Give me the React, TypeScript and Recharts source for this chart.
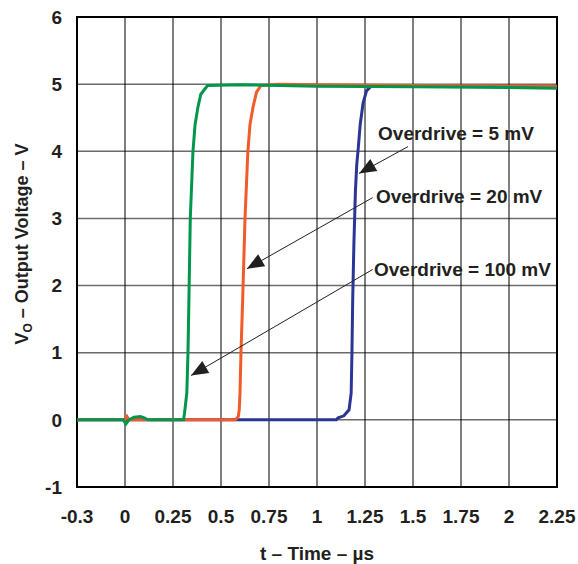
import React from "react";
import {
  CartesianGrid,
  Label,
  Line,
  LineChart,
  ReferenceArea,
  ReferenceDot,
  ReferenceLine,
  XAxis,
  YAxis,
} from "recharts";

// time in µs, output voltage in V
const od5Time = [-0.25, 0.6, 1.0, 1.1, 1.11, 1.14, 1.167, 1.178, 1.182, 1.186, 1.192, 1.2, 1.207, 1.215, 1.225, 1.24, 1.258, 1.281, 1.35, 1.6, 2.0, 2.25];
const od5Volt = [0, 0, 0, 0, 0.03, 0.06, 0.15, 0.4, 1.0, 1.8, 2.6, 3.4, 3.8, 4.05, 4.4, 4.72, 4.9, 4.97, 4.98, 4.97, 4.96, 4.95];

const od20Time = [-0.25, 0.0, 0.01, 0.02, 0.575, 0.59, 0.595, 0.599, 0.604, 0.613, 0.625, 0.64, 0.651, 0.667, 0.685, 0.708, 0.8, 1.0, 1.5, 2.0, 2.25];
const od20Volt = [0, 0, 0.05, 0, 0, 0.05, 0.15, 0.4, 1.0, 1.8, 3.0, 4.0, 4.4, 4.66, 4.88, 4.98, 5.0, 4.99, 4.98, 4.97, 4.97];

const od100Time = [-0.25, -0.01, 0.005, 0.02, 0.047, 0.08, 0.1, 0.12, 0.305, 0.31, 0.322, 0.328, 0.333, 0.34, 0.354, 0.365, 0.38, 0.395, 0.43, 0.6, 1.0, 1.5, 2.0, 2.25];
const od100Volt = [0, 0, -0.06, 0, 0.04, 0.05, 0.03, 0, 0, 0.1, 0.4, 1.0, 1.8, 3.0, 4.0, 4.4, 4.66, 4.85, 4.98, 4.99, 4.97, 4.96, 4.95, 4.94];

const xTicks = [-0.25, 0, 0.25, 0.5, 0.75, 1, 1.25, 1.5, 1.75, 2, 2.25];
const yTicks = [-1, 0, 1, 2, 3, 4, 5, 6];

const notes = [
  { text: "Overdrive = 5 mV", t: 1.318, v: 4.27, fromT: 1.474, fromV: 4.07, tipT: 1.219, tipV: 3.67 },
  { text: "Overdrive = 20 mV", t: 1.307, v: 3.33, fromT: 1.29, fromV: 3.31, tipT: 0.635, tipV: 2.25 },
  { text: "Overdrive = 100 mV", t: 1.297, v: 2.24, fromT: 1.29, fromV: 2.24, tipT: 0.344, tipV: 0.66 },
];

const toRows = (ts: number[], vs: number[]) => ts.map((t, i) => ({ t, v: vs[i] }));
const od5 = toRows(od5Time, od5Volt);
const od20 = toRows(od20Time, od20Volt);
const od100 = toRows(od100Time, od100Volt);

const FONT = "'Liberation Sans', Arial, sans-serif";
const INK = "#231f20";

const tickStyle = { fontFamily: FONT, fontSize: 19, fontWeight: 700, fill: INK };

const Arrowhead = (props: any) => (
  <polygon
    points="0,0 -17,-7 -17,7"
    fill={INK}
    transform={`translate(${props.cx},${props.cy}) rotate(150)`}
  />
);

const noteText = (text: string) => (props: any) => (
  <text
    x={props.cx}
    y={props.cy}
    dy="0.35em"
    fontFamily={FONT}
    fontSize={19}
    fontWeight={700}
    fill={INK}
  >
    {text}
  </text>
);

const YTitle = () => (
  <text
    transform="translate(28, 244) rotate(-90)"
    textAnchor="middle"
    fontFamily={FONT}
    fontSize={18}
    fontWeight={700}
    fill={INK}
  >
    V<tspan fontSize={12} dy={4}>O</tspan>
    <tspan dy={-4}> – Output Voltage – V</tspan>
  </text>
);

const XTitle = (props: any) => {
  const vb = props.viewBox;
  return (
    <text
      x={vb.x + vb.width / 2}
      y={vb.y + 73}
      textAnchor="middle"
      fontFamily={FONT}
      fontSize={19}
      fontWeight={700}
      fill={INK}
    >
      t – Time – µs
    </text>
  );
};

export default function App() {
  return (
    <div style={{ position: "absolute", left: 0, top: 0, background: "#fff" }}>
      <LineChart width={578} height={564} margin={{ top: 17, right: 21, bottom: 0, left: 0 }}>
        <CartesianGrid vertical={false} stroke="#6b6b6b" strokeWidth={1.5} />
        <CartesianGrid horizontal={false} stroke="#000" strokeWidth={1} />
        <XAxis
          type="number"
          dataKey="t"
          domain={[-0.25, 2.25]}
          ticks={xTicks}
          interval={0}
          allowDataOverflow
          height={77}
          axisLine={false}
          tickLine={false}
          tickSize={0}
          tickMargin={23}
          tick={tickStyle}
          tickFormatter={(t: number) => (t === -0.25 ? "-0.3" : String(t))}
        >
          <Label content={XTitle} />
        </XAxis>
        <YAxis
          type="number"
          domain={[-1, 6]}
          ticks={yTicks}
          interval={0}
          width={77}
          axisLine={false}
          tickLine={false}
          tickSize={0}
          tickMargin={15}
          tick={tickStyle}
        >
          <Label content={YTitle} />
        </YAxis>
        <ReferenceArea x1={-0.25} x2={2.25} y1={-1} y2={6} fill="none" stroke="#000" strokeWidth={2} />
        <Line data={od5} dataKey="v" type="linear" stroke="#2b3595" strokeWidth={3} dot={false} isAnimationActive={false} />
        <Line data={od20} dataKey="v" type="linear" stroke="#f15a29" strokeWidth={3} dot={false} isAnimationActive={false} />
        <Line data={od100} dataKey="v" type="linear" stroke="#00964b" strokeWidth={3} dot={false} isAnimationActive={false} />
        {notes.map((n) => (
          <ReferenceLine
            key={`l-${n.text}`}
            segment={[
              { x: n.fromT, y: n.fromV },
              { x: n.tipT, y: n.tipV },
            ]}
            stroke={INK}
            strokeWidth={1}
          />
        ))}
        {notes.map((n) => (
          <ReferenceDot key={`a-${n.text}`} x={n.tipT} y={n.tipV} r={0} shape={Arrowhead} />
        ))}
        {notes.map((n) => (
          <ReferenceDot key={`t-${n.text}`} x={n.t} y={n.v} r={0} shape={noteText(n.text)} />
        ))}
      </LineChart>
    </div>
  );
}
